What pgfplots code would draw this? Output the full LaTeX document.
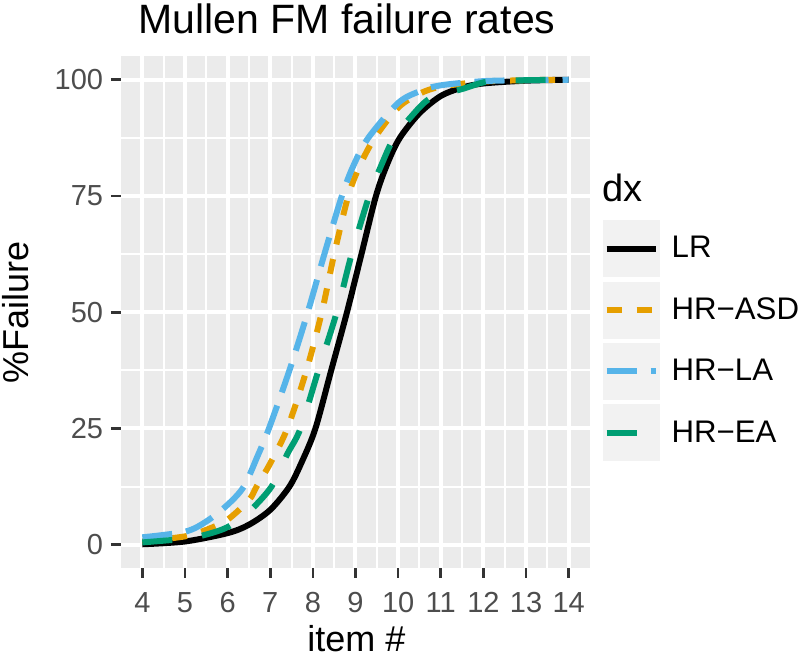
\documentclass[border=0pt]{standalone}
\usepackage{fontspec}
\setmainfont{Liberation Sans}
\usepackage{pgfplots}
\pgfplotsset{compat=1.18}

\definecolor{panel}{HTML}{EBEBEB}
\definecolor{keybg}{HTML}{F2F2F2}
\definecolor{asd}{HTML}{E69F00}
\definecolor{la}{HTML}{56B4E9}
\definecolor{ea}{HTML}{009E73}
\definecolor{tickgray}{HTML}{333333}
\definecolor{labgray}{HTML}{4D4D4D}

\begin{document}
\begin{tikzpicture}
\useasboundingbox (0,0) rectangle (400pt,329pt);
\begin{axis}[
    at={(60.5pt,45pt)}, anchor=south west,
    scale only axis, width=234.5pt, height=255.75pt,
    xmin=3.5, xmax=14.5, ymin=-5, ymax=105,
    xtick={4,...,14}, ytick={0,25,50,75,100},
    minor xtick={4.5,5.5,...,13.5}, minor ytick={12.5,37.5,62.5,87.5},
    grid=both,
    major grid style={white, line width=2pt},
    minor grid style={white, line width=1pt},
    axis background/.style={fill=panel},
    axis line style={draw=none},
    tick pos=left, tick align=outside,
    major tick length=5pt, minor tick length=0pt,
    every tick/.style={tickgray, line width=1.3pt},
    /pgf/number format/assume math mode=true,
    ticklabel style={font=\fontsize{14.5}{16}\selectfont, text=labgray, inner sep=0pt},
    xticklabel style={anchor=north, yshift=-7pt},
    yticklabel style={anchor=east, xshift=-3.75pt},
    xlabel={item \#},
    xlabel style={at={(axis description cs:0.502,-0.163)}, anchor=base,
        font=\fontsize{18}{21}\selectfont, inner sep=0pt},
    ylabel={\%Failure},
    ylabel style={at={(axis description cs:-0.224,0.5)}, anchor=center,
        font=\fontsize{18}{21}\selectfont, inner sep=0pt},
    legend style={at={(axis description cs:1.027,0.680)}, anchor=north west,
        draw=none, fill=none, inner sep=0pt, outer sep=0pt, row sep=2.2pt,
        font=\fontsize{15.6}{19}\selectfont, nodes={inner sep=0pt},
        /tikz/every odd column/.append style={column sep=5.85pt}},
    legend cell align=left,
    legend image code/.code={
        \fill[keybg, draw=none] (0pt,-14.25pt) rectangle (28.65pt,14.25pt);
        \draw[#1] (2pt,0pt) -- (26.65pt,0pt);
    },
]
\addplot[black, line width=3pt, smooth] coordinates {
    (4,0.1) (5,0.7) (6,2.5) (6.5,4.3) (7,7.5) (7.45,12.5) (7.75,18)
    (8.06,25) (8.43,37.5) (8.80,50) (9.14,62.5) (9.48,75) (9.75,82)
    (10.04,87.5) (10.5,92.8) (11,96.5) (11.5,98.3) (12,99.2) (13,99.8) (14,100)
};
\addlegendentry{LR}
\addplot[asd, line width=3pt, dash pattern=on 7.5pt off 7.5pt, smooth] coordinates {
    (4,0.7) (5,1.8) (5.5,3.2) (6,5.4) (6.5,9.6) (6.68,12.5) (7,17.5)
    (7.40,25) (7.85,37.5) (8.21,50) (8.50,62.5) (8.83,75) (9.1,81.5)
    (9.45,87.5) (10,94.0) (10.5,97.0) (11,98.5) (12,99.6) (13,99.9) (14,100)
};
\addlegendentry{HR−ASD}
\addplot[la, line width=3pt, dash pattern=on 15pt off 7pt, smooth] coordinates {
    (4,1.6) (5,2.8) (5.5,5.0) (6,8.6) (6.38,12.5) (6.7,19) (6.97,25)
    (7.45,37.5) (7.88,50) (8.27,62.5) (8.68,75) (8.95,81.5) (9.30,87.5)
    (10,95.0) (10.5,97.5) (11,98.8) (12,99.7) (13,99.9) (14,100)
};
\addlegendentry{HR−LA}
\addplot[ea, line width=3pt, dash pattern=on 15pt off 15pt, smooth] coordinates {
    (4,0.5) (5,1.3) (5.5,2.2) (6,3.8) (6.5,7.1) (7.03,12.5) (7.4,19.5)
    (7.71,25) (8.13,37.5) (8.56,50) (8.91,62.5) (9.32,75) (9.6,81.5)
    (9.90,87.5) (10.25,91.5) (10.75,96.0) (11.5,98.0) (12.1,99.6) (13,99.9) (14,100)
};
\addlegendentry{HR−EA}
\end{axis}
% plot title and legend title
\node[anchor=base, inner sep=0pt, font=\fontsize{20.5}{24}\selectfont]
    at (173.5pt,312pt) {Mullen FM failure rates};
\node[anchor=west, inner sep=0pt, font=\fontsize{19}{22}\selectfont]
    at (300.85pt,235pt) {dx};
\end{tikzpicture}
\end{document}
